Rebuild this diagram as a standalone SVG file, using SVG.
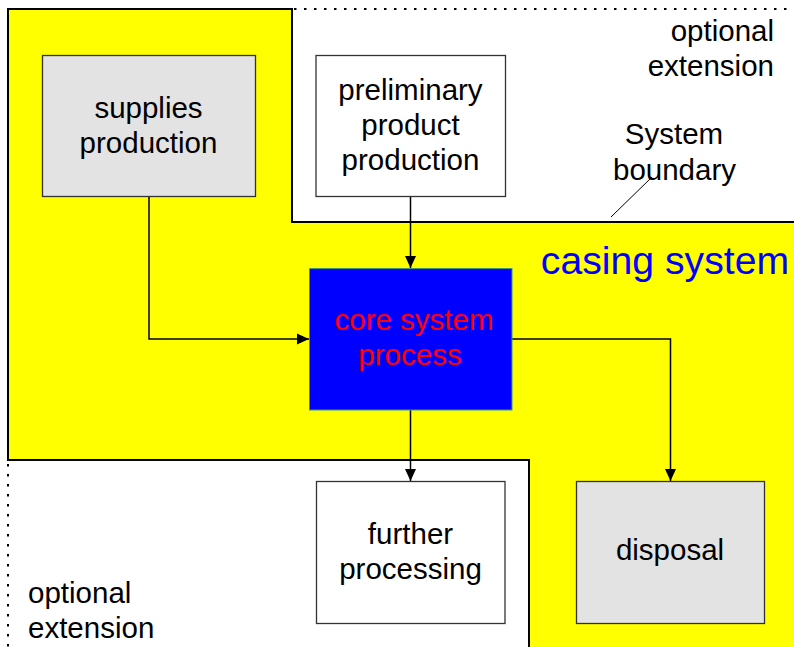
<svg xmlns="http://www.w3.org/2000/svg" width="794" height="647" viewBox="0 0 794 647">
  <style>
    .lbl { font-family: "Liberation Sans", Arial, sans-serif; font-size: 29.5px; fill: #000; text-anchor: middle; }
    .box { stroke: #333; stroke-width: 1.3; }
    .grey { fill: #e3e3e3; }
    .white { fill: #fff; }
    .edge { fill: none; stroke: #000; stroke-width: 1.5; }
    .dots { fill: none; stroke: #000; stroke-width: 2; stroke-dasharray: 2.5 7.5; }
  </style>
  <defs>
    <marker id="arrow" viewBox="0 0 12 12" refX="12" refY="6" markerWidth="12" markerHeight="12" markerUnits="userSpaceOnUse" orient="auto">
      <path d="M0,0.5 L12,6 L0,11.5 Z" fill="#000"/>
    </marker>
  </defs>

  <rect width="794" height="647" fill="#fff"/>

  <!-- casing system area -->
  <g id="casing-system">
    <polygon points="8,9 292,9 292,222 794,222 794,647 529,647 529,460 8,460" fill="#ffff00"/>
    <polyline points="794,222 292,222 292,9 8,9 8,460 529,460 529,647" fill="none" stroke="#000" stroke-width="2"/>
    <text x="665" y="273.5" style="font-family:'Liberation Sans', Arial, sans-serif; font-size:39.2px; fill:#0000ff; text-anchor:middle">casing system</text>
  </g>

  <!-- optional extension borders -->
  <g id="optional-top">
    <line class="dots" x1="294" y1="9" x2="794" y2="9"/>
    <text class="lbl" x="774" y="41" style="text-anchor:end">optional</text>
    <text class="lbl" x="774" y="76" style="text-anchor:end">extension</text>
  </g>
  <g id="optional-bottom">
    <line class="dots" x1="8" y1="464" x2="8" y2="647"/>
    <text class="lbl" x="28" y="603" style="text-anchor:start">optional</text>
    <text class="lbl" x="28" y="638" style="text-anchor:start">extension</text>
  </g>

  <!-- system boundary callout -->
  <g id="system-boundary">
    <line x1="611" y1="217" x2="652" y2="177" stroke="#000" stroke-width="1"/>
    <text class="lbl" x="674" y="144">System</text>
    <text class="lbl" x="674.5" y="179.5">boundary</text>
  </g>

  <!-- connectors -->
  <g id="connectors">
    <polyline class="edge" points="149,197 149,339 309,339" marker-end="url(#arrow)"/>
    <polyline class="edge" points="410.5,197 410.5,268" marker-end="url(#arrow)"/>
    <polyline class="edge" points="410.5,410 410.5,481" marker-end="url(#arrow)"/>
    <polyline class="edge" points="512,339 670.5,339 670.5,481" marker-end="url(#arrow)"/>
  </g>

  <g id="supplies-production">
    <rect class="box grey" x="42.5" y="55.5" width="213" height="141"/>
    <text class="lbl" x="148.5" y="117.5">supplies</text>
    <text class="lbl" x="148.5" y="153">production</text>
  </g>

  <g id="preliminary-product-production">
    <rect class="box white" x="316" y="55.5" width="189.5" height="141"/>
    <text class="lbl" x="410.5" y="100">preliminary</text>
    <text class="lbl" x="410.5" y="135">product</text>
    <text class="lbl" x="410.5" y="170">production</text>
  </g>

  <g id="core-system-process">
    <rect x="309.5" y="268.5" width="202.5" height="141.5" fill="#0000ff" stroke="#3c9a7a" stroke-width="1"/>
    <text class="lbl" x="414" y="329.5" style="fill:#ff0000">core system</text>
    <text class="lbl" x="410" y="365" style="fill:#ff0000">process</text>
  </g>

  <g id="further-processing">
    <rect class="box white" x="316.5" y="481.5" width="188.5" height="142"/>
    <text class="lbl" x="410.5" y="544">further</text>
    <text class="lbl" x="410.5" y="578.5">processing</text>
  </g>

  <g id="disposal">
    <rect class="box grey" x="576.5" y="481.5" width="188" height="142"/>
    <text class="lbl" x="670" y="560">disposal</text>
  </g>
</svg>
